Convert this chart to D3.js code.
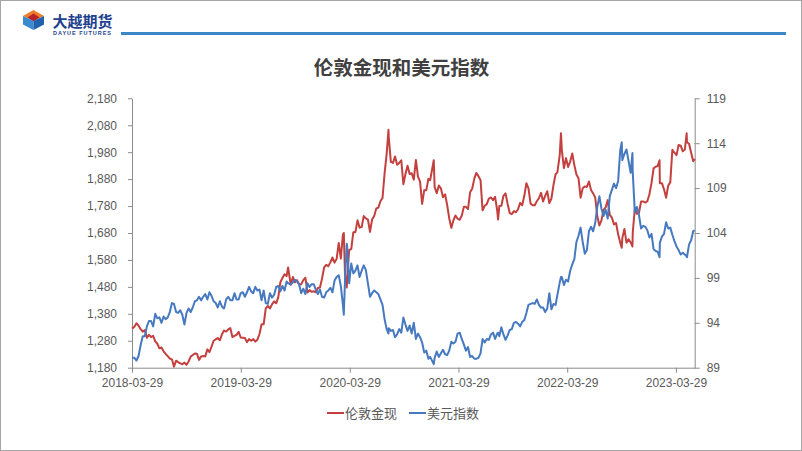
<!DOCTYPE html>
<html><head><meta charset="utf-8">
<script src="https://cdn.jsdelivr.net/npm/d3@7"></script>
<style>body{margin:0;background:#fff}svg{display:block}</style>
</head><body><svg id="c" width="802" height="451"></svg>
<script>
const dates = [
"2018-03-29","2018-04-06","2018-04-13","2018-04-20","2018-04-27","2018-05-04","2018-05-11","2018-05-18","2018-05-25","2018-06-01",
"2018-06-08","2018-06-15","2018-06-22","2018-06-29","2018-07-06","2018-07-13","2018-07-20","2018-07-27","2018-08-03","2018-08-10",
"2018-08-17","2018-08-24","2018-08-31","2018-09-07","2018-09-14","2018-09-21","2018-09-28","2018-10-05","2018-10-12","2018-10-19",
"2018-10-26","2018-11-02","2018-11-09","2018-11-16","2018-11-23","2018-11-30","2018-12-07","2018-12-14","2018-12-21","2018-12-28",
"2019-01-04","2019-01-11","2019-01-18","2019-01-25","2019-02-01","2019-02-08","2019-02-15","2019-02-22","2019-03-01","2019-03-08",
"2019-03-15","2019-03-22","2019-03-29","2019-04-05","2019-04-12","2019-04-19","2019-04-26","2019-05-03","2019-05-10","2019-05-17",
"2019-05-24","2019-05-31","2019-06-07","2019-06-14","2019-06-21","2019-06-28","2019-07-05","2019-07-12","2019-07-19","2019-07-26",
"2019-08-02","2019-08-09","2019-08-16","2019-08-23","2019-08-30","2019-09-04","2019-09-13","2019-09-20","2019-09-27","2019-10-04",
"2019-10-11","2019-10-18","2019-10-25","2019-11-01","2019-11-08","2019-11-15","2019-11-22","2019-11-29","2019-12-06","2019-12-13",
"2019-12-20","2019-12-27",
"2020-01-03","2020-01-10","2020-01-17","2020-01-24","2020-01-31","2020-02-07","2020-02-14","2020-02-21","2020-02-28","2020-03-06",
"2020-03-09","2020-03-13","2020-03-19","2020-03-20","2020-03-27","2020-04-03","2020-04-10","2020-04-17","2020-04-24","2020-05-01",
"2020-05-08","2020-05-15","2020-05-22","2020-05-29","2020-06-05","2020-06-12","2020-06-19","2020-06-26","2020-07-03","2020-07-10",
"2020-07-17","2020-07-24","2020-07-31","2020-08-06","2020-08-07","2020-08-14","2020-08-21","2020-08-28","2020-09-04","2020-09-11",
"2020-09-18","2020-09-25","2020-10-02","2020-10-09","2020-10-16","2020-10-23","2020-10-30","2020-11-06","2020-11-13","2020-11-20",
"2020-11-27","2020-12-04","2020-12-11","2020-12-18","2020-12-24",
"2021-01-05","2021-01-08","2021-01-15","2021-01-22","2021-01-29","2021-02-05","2021-02-12","2021-02-19","2021-02-26","2021-03-05",
"2021-03-12","2021-03-19","2021-03-26","2021-04-02","2021-04-09","2021-04-16","2021-04-23","2021-04-30","2021-05-07","2021-05-14",
"2021-05-21","2021-05-28","2021-06-04","2021-06-11","2021-06-18","2021-06-25","2021-07-02","2021-07-09","2021-07-16","2021-07-23",
"2021-07-30","2021-08-06","2021-08-09","2021-08-13","2021-08-20","2021-08-27","2021-09-03","2021-09-10","2021-09-17","2021-09-24",
"2021-10-01","2021-10-08","2021-10-15","2021-10-22","2021-10-29","2021-11-05","2021-11-12","2021-11-19","2021-11-26","2021-12-03",
"2021-12-10","2021-12-17","2021-12-24","2021-12-31",
"2022-01-07","2022-01-14","2022-01-21","2022-01-28","2022-02-04","2022-02-11","2022-02-18","2022-02-24","2022-03-04","2022-03-08",
"2022-03-11","2022-03-18","2022-03-25","2022-04-01","2022-04-08","2022-04-15","2022-04-22","2022-04-29","2022-05-06","2022-05-13",
"2022-05-20","2022-05-27","2022-06-03","2022-06-10","2022-06-17","2022-06-24","2022-07-01","2022-07-08","2022-07-15","2022-07-22",
"2022-07-29","2022-08-05","2022-08-12","2022-08-19","2022-08-26","2022-09-02","2022-09-09","2022-09-16","2022-09-23","2022-09-28",
"2022-09-30","2022-10-07","2022-10-14","2022-10-21","2022-10-28","2022-11-03","2022-11-04","2022-11-11","2022-11-18","2022-11-25",
"2022-12-02","2022-12-09","2022-12-16","2022-12-23","2022-12-30",
"2023-01-06","2023-01-13","2023-01-20","2023-01-27","2023-02-02","2023-02-03","2023-02-10","2023-02-17","2023-02-24","2023-03-03",
"2023-03-10","2023-03-17","2023-03-24","2023-03-31","2023-04-07","2023-04-14","2023-04-21","2023-04-28","2023-05-04","2023-05-05",
"2023-05-12","2023-05-19","2023-05-26","2023-05-31"
];
const goldSpot = [
1325,1332,1345,1336,1323,1314,1320,1291,1302,1294,
1298,1278,1269,1252,1255,1241,1231,1223,1214,1211,
1184,1206,1201,1196,1193,1199,1191,1203,1221,1227,
1233,1232,1209,1222,1223,1222,1248,1238,1258,1280,
1285,1290,1282,1304,1318,1314,1322,1327,1294,1298,
1302,1313,1292,1291,1290,1275,1286,1280,1286,1277,
1284,1305,1341,1341,1400,1409,1400,1415,1426,1419,
1441,1497,1513,1527,1520,1552,1488,1517,1497,1505,
1489,1490,1505,1514,1459,1468,1462,1464,1460,1476,
1478,1511,
1552,1562,1557,1571,1589,1570,1584,1643,1585,1674,
1680,1530,1478,1499,1617,1620,1683,1683,1727,1700,
1702,1743,1734,1730,1684,1730,1743,1771,1774,1798,
1810,1902,1975,2063,2035,1944,1940,1964,1933,1940,
1950,1861,1899,1930,1899,1902,1878,1951,1889,1871,
1788,1839,1839,1881,1876,
1950,1850,1828,1856,1846,1813,1824,1784,1734,1699,
1727,1745,1733,1729,1744,1777,1777,1769,1831,1844,
1881,1903,1891,1877,1764,1781,1787,1808,1812,1802,
1814,1763,1730,1780,1781,1818,1827,1788,1754,1750,
1761,1757,1768,1792,1783,1818,1865,1846,1789,1783,
1783,1798,1809,1829,
1797,1818,1835,1791,1808,1859,1898,1905,1970,2050,
1988,1921,1958,1925,1945,1975,1932,1897,1883,1811,
1846,1853,1851,1871,1840,1827,1812,1742,1708,1727,
1766,1775,1802,1747,1737,1712,1717,1675,1644,1625,
1661,1695,1644,1657,1645,1630,1681,1771,1751,1755,
1797,1797,1793,1798,1824,
1865,1920,1926,1929,1950,1865,1865,1842,1811,1856,
1868,1989,1978,1969,2007,2004,1983,1990,2050,2017,
2011,1978,1946,1955
];
const dollarIndex = [
90.1,90.1,89.8,90.3,91.5,92.5,92.5,93.6,94.2,94.2,
93.6,95.0,94.5,94.6,94.0,94.7,94.4,94.6,95.2,96.2,
96.1,95.2,95.1,95.4,94.9,93.8,95.1,95.6,95.2,95.7,
96.4,96.5,96.9,96.5,96.9,97.2,96.6,97.4,97.0,96.4,
96.2,95.7,96.4,95.8,95.6,96.6,96.9,96.5,96.5,97.3,
96.6,96.6,97.3,97.4,96.9,97.4,98.0,97.5,97.3,98.0,
97.6,97.7,96.5,97.6,96.2,96.1,97.3,96.8,97.1,98.0,
98.1,97.5,98.1,97.6,98.6,98.4,98.3,98.5,98.8,98.6,
98.3,97.3,97.8,97.2,98.4,98.0,98.3,98.3,97.7,97.2,
97.7,96.9,
96.8,97.4,97.6,97.9,97.4,98.7,99.1,99.3,98.1,96.0,
94.9,98.7,102.8,102.6,98.4,100.6,99.5,99.8,100.4,99.1,
99.8,100.4,99.9,98.4,96.9,97.3,97.6,97.4,97.2,96.6,
96.0,94.4,93.3,92.8,93.4,93.1,93.2,92.4,92.7,93.3,
92.9,94.6,93.8,93.1,93.7,92.8,94.0,92.2,92.8,92.4,
91.8,90.7,90.9,90.0,90.2,
89.4,90.1,90.8,90.2,90.6,91.0,90.5,90.4,90.9,91.9,
91.7,91.9,92.8,92.9,92.2,91.6,90.9,91.3,90.2,90.3,
90.0,90.0,90.1,90.6,92.2,91.8,92.2,92.1,92.7,92.9,
92.2,92.8,92.9,92.5,93.5,92.7,92.1,92.6,93.2,93.3,
94.0,94.1,93.9,93.6,94.1,94.3,95.1,96.0,96.1,96.2,
96.1,96.6,96.0,95.7,
95.7,95.2,95.6,97.3,95.5,96.1,96.0,97.1,98.5,99.1,
99.1,98.2,98.8,98.6,99.8,100.5,101.1,103.0,103.7,104.6,
103.0,101.7,102.1,104.2,104.7,104.2,105.1,106.9,108.1,106.7,
105.9,106.6,105.6,108.1,108.8,109.5,109.0,109.8,113.2,114.1,
112.1,112.8,113.3,112.0,110.7,112.9,110.8,106.3,106.9,106.0,
104.5,104.8,104.7,104.3,103.5,
103.9,102.2,102.0,101.9,101.3,102.9,103.6,103.9,105.2,104.5,
104.6,103.8,103.1,102.5,102.1,101.6,101.8,101.6,101.4,101.3,
102.7,103.2,104.2,104.3
];
const leftTicks = [1180,1280,1380,1480,1580,1680,1780,1880,1980,2080,2180];
const rightTicks = [89,94,99,104,109,114,119];
const xTickLabels = ["2018-03-29","2019-03-29","2020-03-29","2021-03-29","2022-03-29","2023-03-29"];
const seriesNames = ["伦敦金现","美元指数"];
const chartTitle = "伦敦金现和美元指数";

const parse = d3.utcParse("%Y-%m-%d");
const svg = d3.select("#c");
const FONT = "'Liberation Sans', Arial, sans-serif";
const CJK = "'Noto Sans CJK SC', sans-serif";
const RED = "#C3403F", BLUE = "#4679C0", AXIS = "#8c8c8c", LBL = "#595959";

// frame
svg.append("rect").attr("x",0.5).attr("y",0.5).attr("width",801).attr("height",450)
  .attr("fill","#fff").attr("stroke","#a6a6a6");

// header logo
const g0 = svg.append("g");
g0.append("polygon").attr("points","33.5,10 44,16 33.5,21 23,16").attr("fill","#ee7d2a");
g0.append("polygon").attr("points","33.5,13.5 39.5,17.5 33.5,21.5 27.5,17.5").attr("fill","#b7232b");
g0.append("polygon").attr("points","23,16 33.5,21 33.5,30 23,24.5").attr("fill","#3a8ad0");
g0.append("polygon").attr("points","44,16 33.5,21 33.5,30 44,24.5").attr("fill","#1f63ad");
g0.append("text").attr("x",52.5).attr("y",27).text("大越期货")
  .attr("font-family",CJK).attr("font-weight","bold").attr("font-size",15).attr("fill","#1d3f8e");
g0.append("text").attr("x",53).attr("y",35).text("DAYUE FUTURES")
  .attr("font-family",FONT).attr("font-weight","bold").attr("font-size",5.5)
  .attr("textLength",58).attr("lengthAdjust","spacing").attr("fill","#1d3f8e");
g0.append("rect").attr("x",121).attr("y",32).attr("width",665).attr("height",3).attr("fill","#3a88c8");

// title
svg.append("text").attr("x",401.5).attr("y",75).attr("text-anchor","middle").text(chartTitle)
  .attr("font-family",CJK).attr("font-weight","bold").attr("font-size",19.5).attr("fill","#404040");

// scales
const x = d3.scaleUtc().domain([parse("2018-03-29"), parse("2023-05-31")]).range([132, 694.7]);
const yL = d3.scaleLinear().domain([1180,2180]).range([367.7, 98.3]);
const yR = d3.scaleLinear().domain([89,119]).range([367.7, 98.3]);

const data = dates.map((d,i)=>({date:parse(d), g:goldSpot[i], u:dollarIndex[i]}));

function styleAxis(sel){
  sel.selectAll("path,line").attr("stroke",AXIS).attr("stroke-width",1);
  sel.selectAll("text").attr("fill",LBL).attr("font-family",FONT).attr("font-size",12);
}
svg.append("g").attr("transform","translate(132,0)")
  .call(d3.axisLeft(yL).tickValues(leftTicks).tickFormat(d3.format(",")).tickSize(4).tickSizeOuter(0).tickPadding(11))
  .call(styleAxis);
svg.append("g").attr("transform","translate(694.7,0)")
  .call(d3.axisRight(yR).tickValues(rightTicks).tickFormat(d3.format("d")).tickSize(5).tickSizeOuter(0).tickPadding(7))
  .call(styleAxis);
svg.append("g").attr("transform","translate(0,367.7)")
  .call(d3.axisBottom(x).tickValues(xTickLabels.map(parse)).tickFormat(d3.utcFormat("%Y-%m-%d")).tickSize(5).tickSizeOuter(0).tickPadding(6))
  .call(styleAxis);

// lines
const lineG = d3.line().x(d=>x(d.date)).y(d=>yL(d.g));
const lineU = d3.line().x(d=>x(d.date)).y(d=>yR(d.u));
svg.append("path").datum(data).attr("d",lineG).attr("fill","none").attr("stroke",RED).attr("stroke-width",2).attr("stroke-linejoin","round");
svg.append("path").datum(data).attr("d",lineU).attr("fill","none").attr("stroke",BLUE).attr("stroke-width",2).attr("stroke-linejoin","round");

// legend
const leg = [{name:seriesNames[0],c:RED,x:327},{name:seriesNames[1],c:BLUE,x:409}];
leg.forEach(l=>{
  svg.append("line").attr("x1",l.x).attr("x2",l.x+17).attr("y1",413).attr("y2",413).attr("stroke",l.c).attr("stroke-width",2);
  svg.append("text").attr("x",l.x+18).attr("y",418).text(l.name)
    .attr("font-family",CJK).attr("font-size",13).attr("fill",LBL);
});
</script></body></html>
